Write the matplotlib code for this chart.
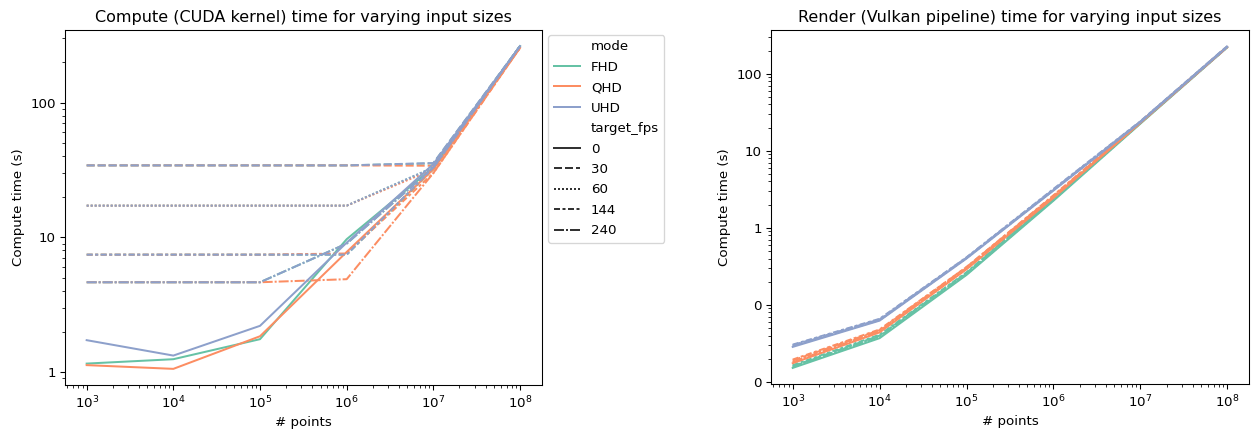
import matplotlib
matplotlib.use("Agg")
import matplotlib.pyplot as plt
from matplotlib.lines import Line2D
from matplotlib.ticker import FormatStrFormatter

# ---------------- data ----------------
sizes = [1e3, 1e4, 1e5, 1e6, 1e7, 1e8]
modes = ["FHD", "QHD", "UHD"]
target_fps = [0, 30, 60, 144, 240]

# Compute (CUDA kernel) time; rows = target_fps 0, 30, 60, 144, 240
compute_FHD = [
    [1.16, 1.25, 1.76, 9.7, 33.0, 262],
    [34.2, 34.2, 34.2, 34.2, 35.4, 262],
    [17.2, 17.2, 17.2, 17.2, 33.0, 262],
    [7.45, 7.45, 7.45, 7.45, 32.0, 262],
    [4.65, 4.65, 4.65, 9.0, 33.0, 262],
]
compute_QHD = [
    [1.13, 1.06, 1.85, 7.8, 32.0, 255],
    [34.2, 34.2, 34.2, 34.2, 34.0, 255],
    [17.2, 17.2, 17.2, 17.2, 32.0, 255],
    [7.45, 7.45, 7.45, 7.6, 30.0, 255],
    [4.65, 4.65, 4.65, 4.9, 30.0, 255],
]
compute_UHD = [
    [1.73, 1.33, 2.21, 9.15, 35.0, 262],
    [34.2, 34.2, 34.2, 34.2, 35.6, 262],
    [17.2, 17.2, 17.2, 17.2, 33.0, 262],
    [7.45, 7.45, 7.45, 7.45, 33.0, 262],
    [4.65, 4.65, 4.65, 9.0, 33.0, 262],
]

# Render (Vulkan pipeline) time; rows = target_fps 0, 30, 60, 144, 240
render_FHD = [
    [0.0152, 0.037, 0.245, 2.25, 22.5, 220],
    [0.0160, 0.040, 0.260, 2.40, 23.2, 224],
    [0.0157, 0.039, 0.250, 2.30, 22.9, 222],
    [0.0165, 0.041, 0.265, 2.45, 23.4, 225],
    [0.0158, 0.039, 0.255, 2.35, 23.0, 223],
]
render_QHD = [
    [0.0175, 0.044, 0.29, 2.45, 23.0, 222],
    [0.0190, 0.047, 0.31, 2.60, 23.6, 225],
    [0.0183, 0.045, 0.30, 2.50, 23.3, 224],
    [0.0195, 0.048, 0.31, 2.65, 23.8, 226],
    [0.0180, 0.046, 0.30, 2.55, 23.2, 223],
]
render_UHD = [
    [0.0285, 0.0625, 0.400, 3.05, 23.5, 224],
    [0.0300, 0.0650, 0.410, 3.15, 24.0, 228],
    [0.0292, 0.0640, 0.405, 3.10, 23.8, 226],
    [0.0305, 0.0660, 0.415, 3.20, 24.2, 229],
    [0.0296, 0.0635, 0.410, 3.10, 23.7, 225],
]

compute = {"FHD": compute_FHD, "QHD": compute_QHD, "UHD": compute_UHD}
render = {"FHD": render_FHD, "QHD": render_QHD, "UHD": render_UHD}

colors = {"FHD": "#66c2a5", "QHD": "#fc8d62", "UHD": "#8da0cb"}
dash_styles = ["-", (0, (4, 1.5)), (0, (1, 1)), (0, (3, 1.25, 1.5, 1.25)), (0, (5, 1, 1, 1))]

DPI = 96
fig = plt.figure(figsize=(1252 / DPI, 434 / DPI), dpi=DPI)
W, H = 1252, 434
ax1 = fig.add_axes([65 / W, (H - 385) / H, 476.7 / W, 355 / H])
ax2 = fig.add_axes([771 / W, (H - 384) / H, 478 / W, 354 / H])


def draw(ax, table, title):
    for m in modes:
        for i, f in enumerate(target_fps):
            ax.plot(sizes, table[m][i], color=colors[m], linestyle=dash_styles[i], lw=1.5)
    ax.set_xscale("log")
    ax.set_yscale("log")
    ax.yaxis.set_major_formatter(FormatStrFormatter("%d"))
    ax.set_title(title)
    ax.set_xlabel("# points")
    ax.set_ylabel("Compute time (s)")


draw(ax1, compute, "Compute (CUDA kernel) time for varying input sizes")
draw(ax2, render, "Render (Vulkan pipeline) time for varying input sizes")

handles, labels = [], []
handles.append(Line2D([], [], linestyle="", marker=""))
labels.append("mode")
for m in modes:
    handles.append(Line2D([], [], color=colors[m], lw=1.5))
    labels.append(m)
handles.append(Line2D([], [], linestyle="", marker=""))
labels.append("target_fps")
for i, f in enumerate(target_fps):
    handles.append(Line2D([], [], color="0.2", lw=1.5, linestyle=dash_styles[i]))
    labels.append(str(f))
ax1.legend(handles, labels, loc="upper left", bbox_to_anchor=(1.0, 1.005),
           labelspacing=0.56)

fig.savefig("out.png", dpi=DPI)
